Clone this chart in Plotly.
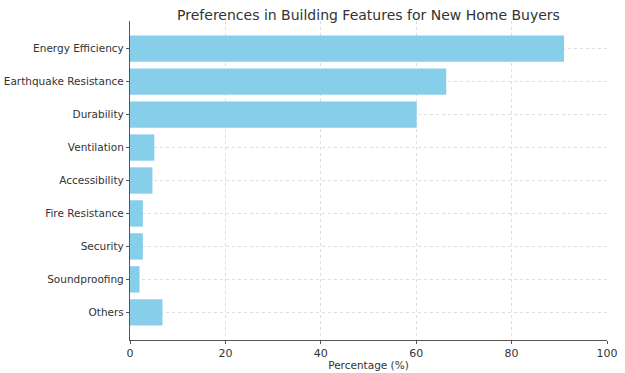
import plotly.graph_objects as go

features = ["Energy Efficiency", "Earthquake Resistance", "Durability", "Ventilation",
            "Accessibility", "Fire Resistance", "Security", "Soundproofing", "Others"]
percentages = [91.0, 66.3, 60.1, 5.1, 4.7, 2.7, 2.7, 2.0, 6.8]
x_ticks = [0, 20, 40, 60, 80, 100]

fig = go.Figure(go.Bar(
    x=percentages, y=features, orientation="h",
    marker=dict(color="#87CEEB", line=dict(width=0)),
    width=0.8,
))

font_family = "DejaVu Sans"
fig.update_layout(
    width=625, height=373,
    margin=dict(l=130, r=18, t=21, b=33, autoexpand=False),
    plot_bgcolor="white", paper_bgcolor="white",
    font=dict(family=font_family, size=10.5, color="#333333"),
    title=dict(text="Preferences in Building Features for New Home Buyers",
               x=0.5, xanchor="center", xref="paper", y=0.96, yanchor="middle",
               font=dict(size=14, color="#333333")),
    showlegend=False,
    bargap=0.2,
)
fig.update_xaxes(
    range=[0, 100], tickvals=x_ticks, ticktext=[str(t) for t in x_ticks],
    showgrid=True, gridcolor="#dddddd", griddash="dot", gridwidth=1,
    showline=True, linecolor="#555555", linewidth=1.2,
    ticks="outside", ticklen=3, tickcolor="#555555",
    zeroline=False, automargin=False,
    tickfont=dict(size=11),
    title=dict(text="Percentage (%)", font=dict(size=10.5), standoff=2),
)
fig.update_yaxes(
    autorange=False, range=[8.84, -0.84],
    showgrid=True, gridcolor="#dddddd", griddash="dot", gridwidth=1,
    showline=True, linecolor="#555555", linewidth=1.2,
    ticks="outside", ticklen=3, tickcolor="#555555",
    zeroline=False, automargin=False,
    tickfont=dict(size=10.5),
)

fig.write_html("out.html",
               config={"displayModeBar": False},
               post_script="document.body.style.margin='0';document.body.style.padding='0';")
